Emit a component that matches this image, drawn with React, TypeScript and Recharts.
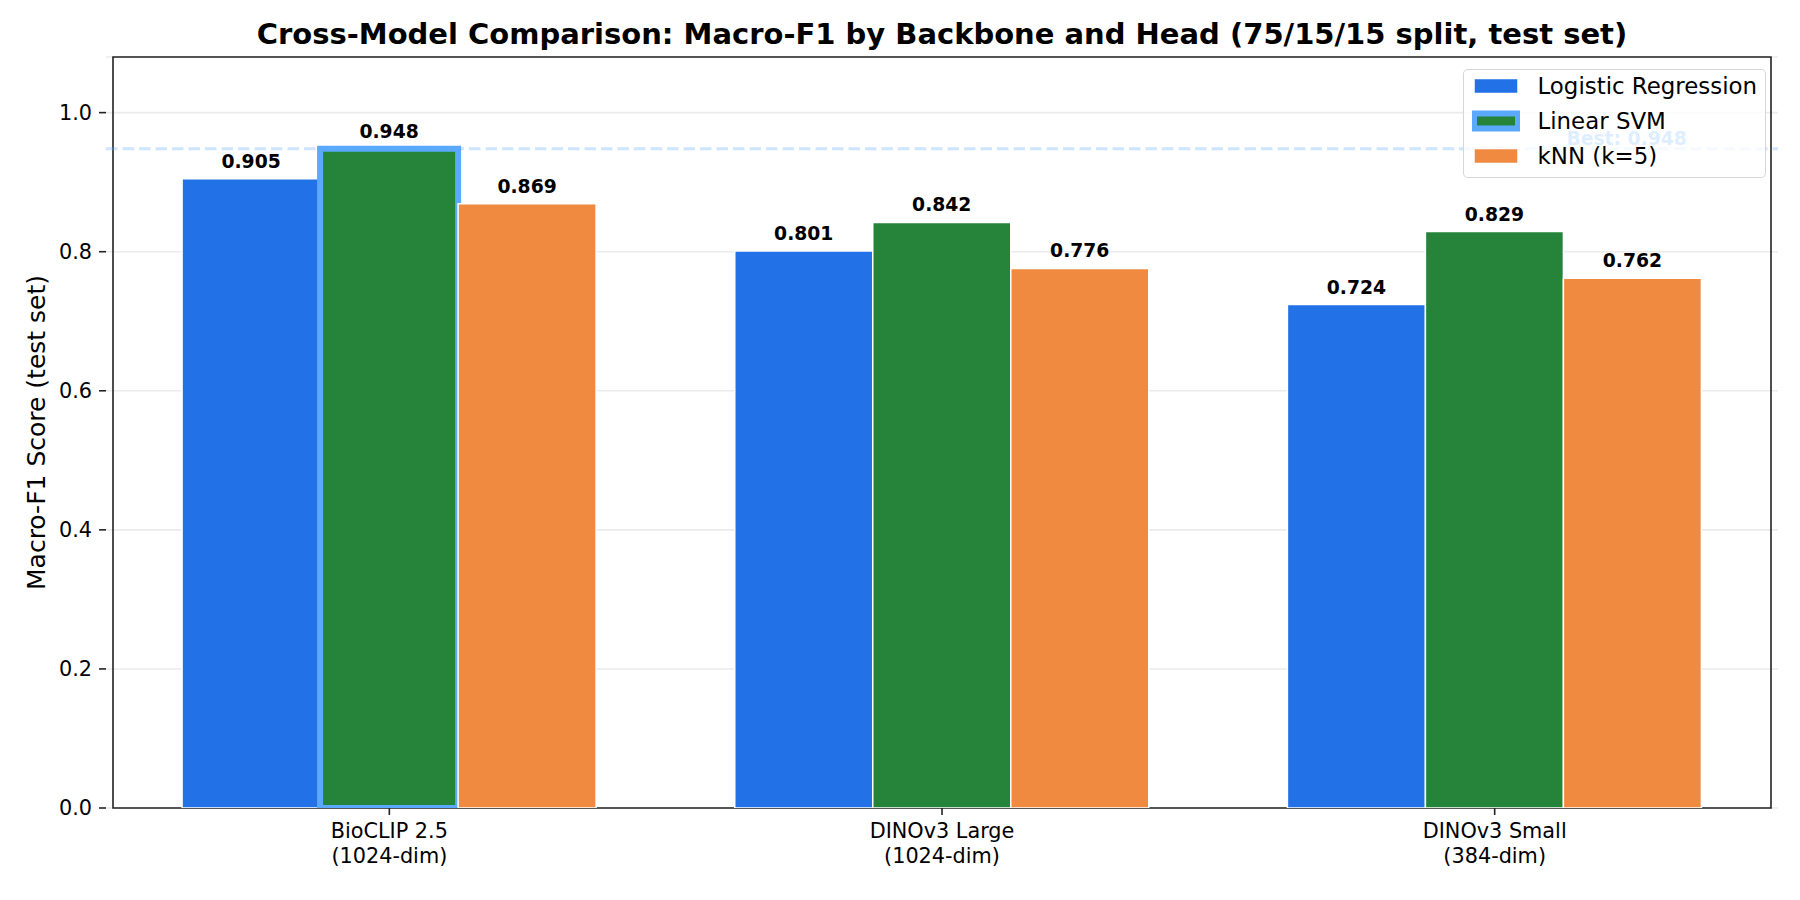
import React from "react";
import {
  BarChart,
  Bar,
  Cell,
  XAxis,
  YAxis,
  CartesianGrid,
  ReferenceLine,
  ReferenceArea,
  ReferenceDot,
  LabelList,
  Label,
} from "recharts";

const backbones = ["BioCLIP 2.5", "DINOv3 Large", "DINOv3 Small"];
const dims = ["(1024-dim)", "(1024-dim)", "(384-dim)"];
const logisticScores = [0.905, 0.801, 0.724];
const svmScores = [0.948, 0.842, 0.829];
const knnScores = [0.869, 0.776, 0.762];
const yTicks = [0, 0.2, 0.4, 0.6, 0.8, 1.0];

const heads = [
  { key: "lr", name: "Logistic Regression", color: "#2271e6" },
  { key: "svm", name: "Linear SVM", color: "#25843a" },
  { key: "knn", name: "kNN (k=5)", color: "#f08a40" },
];

const HIGHLIGHT = "#5aa9ff";
const FONT = "'DejaVu Sans', sans-serif";

const data = backbones.map((b, i) => ({
  name: b,
  dim: dims[i],
  lr: logisticScores[i],
  svm: svmScores[i],
  knn: knnScores[i],
}));

const allScores = [...logisticScores, ...svmScores, ...knnScores];
const best = Math.max(...allScores);
const bestIdx = svmScores.indexOf(best);

function CategoryTick({ x, y, payload, index }: any) {
  return (
    <text x={x} y={y} textAnchor="middle" fontSize={20.8} fontFamily={FONT} fill="#000">
      <tspan x={x} dy="0.76em">{payload.value}</tspan>
      <tspan x={x} dy="1.2em">{dims[index]}</tspan>
    </text>
  );
}

function LegendBox() {
  return (
    <div
      style={{
        position: "absolute",
        left: 1463,
        top: 69,
        width: 303,
        height: 109,
        boxSizing: "border-box",
        background: "rgba(255,255,255,0.8)",
        border: "1.5px solid rgba(204,204,204,0.8)",
        borderRadius: 5,
        fontFamily: FONT,
        fontSize: 22.9,
      }}
    >
      {heads.map((h, i) => (
        <div
          key={h.key}
          style={{
            position: "absolute",
            left: 8,
            top: 4.2 + i * 34.7,
            height: 24,
            display: "flex",
            alignItems: "center",
            whiteSpace: "nowrap",
          }}
        >
          <svg width={48} height={24} style={{ marginRight: 17.5 }}>
            <rect
              x={2}
              y={4.5}
              width={44}
              height={15}
              fill={h.color}
              stroke={h.key === "svm" ? HIGHLIGHT : "#fff"}
              strokeWidth={h.key === "svm" ? 6 : 1.5}
            />
          </svg>
          <span>{h.name}</span>
        </div>
      ))}
    </div>
  );
}

export default function App() {
  return (
    <div style={{ position: "relative", width: 1800, height: 900, background: "#fff" }}>
      <style>{"body{margin:0}"}</style>
      <div
        style={{
          position: "absolute",
          left: 0,
          width: 1884,
          top: 19.5,
          textAlign: "center",
          fontFamily: FONT,
          fontWeight: "bold",
          fontSize: 29,
          lineHeight: "29px",
          whiteSpace: "nowrap",
        }}
      >
        Cross-Model Comparison: Macro-F1 by Backbone and Head (75/15/15 split, test set)
      </div>
      <BarChart
        width={1800}
        height={900}
        data={data}
        margin={{ top: 57, right: 22, bottom: 0, left: 0 }}
        barCategoryGap="12.5%"
        barGap={0}
        style={{ fontFamily: FONT }}
      >
        <CartesianGrid vertical={false} stroke="#ebebeb" strokeWidth={1.6} />
        <XAxis
          dataKey="name"
          height={92}
          axisLine={false}
          tickSize={7}
          tickMargin={7}
          tickLine={{ stroke: "#222", strokeWidth: 1.6 }}
          padding={{ left: 7, right: 7 }}
          interval={0}
          tick={<CategoryTick />}
        />
        <YAxis
          width={106}
          domain={[0, 1.08]}
          ticks={yTicks}
          allowDataOverflow
          axisLine={false}
          tickSize={7}
          tickMargin={7}
          tickLine={{ stroke: "#222", strokeWidth: 1.6 }}
          tickFormatter={(v: number) => v.toFixed(1)}
          tick={{ fill: "#000", fontSize: 20.8, fontFamily: FONT }}
        >
          <Label
            content={({ viewBox }: any) => {
              const cx = viewBox.x + viewBox.width - 61;
              const cy = viewBox.y + viewBox.height / 2;
              return (
                <text
                  x={cx}
                  y={cy}
                  transform={`rotate(-90, ${cx}, ${cy})`}
                  textAnchor="middle"
                  fontSize={25}
                  fontFamily={FONT}
                  fill="#000"
                >
                  Macro-F1 Score (test set)
                </text>
              );
            }}
          />
        </YAxis>
        {heads.map((h) => (
          <Bar
            key={h.key}
            dataKey={h.key}
            name={h.name}
            fill={h.color}
            stroke="#fff"
            strokeWidth={1.5}
            isAnimationActive={false}
          >
            {data.map((_, i) => (
              <Cell
                key={i}
                fill={h.color}
                stroke={h.key === "svm" && i === bestIdx ? HIGHLIGHT : "#fff"}
                strokeWidth={h.key === "svm" && i === bestIdx ? 6 : 1.5}
              />
            ))}
            <LabelList
              dataKey={h.key}
              position="top"
              offset={11}
              formatter={(v: any) => Number(v).toFixed(3)}
              fill="#000"
              fontSize={18.75}
              fontWeight="bold"
              fontFamily={FONT}
            />
          </Bar>
        ))}
        <ReferenceLine
          y={best}
          stroke={HIGHLIGHT}
          strokeOpacity={0.3}
          strokeWidth={3.1}
          strokeDasharray="11.5 5"
        />
        <ReferenceDot
          x={backbones[backbones.length - 1]}
          y={best}
          r={1}
          fill="none"
          stroke="none"
          ifOverflow="visible"
          label={(props: any) => {
            const vb = props.viewBox;
            const cx = vb.x + vb.width / 2;
            const cy = vb.y + vb.height / 2;
            return (
              <text
                x={cx + 132}
                y={cy - 4}
                textAnchor="middle"
                fontSize={18.75}
                fontWeight="bold"
                fontFamily={FONT}
                fill={HIGHLIGHT}
              >
                {`Best: ${best.toFixed(3)}`}
              </text>
            );
          }}
        />
        <ReferenceArea
          y1={0}
          y2={1.08}
          fill="none"
          stroke="#222"
          strokeWidth={1.6}
          ifOverflow="visible"
        />
      </BarChart>
      <LegendBox />
    </div>
  );
}
